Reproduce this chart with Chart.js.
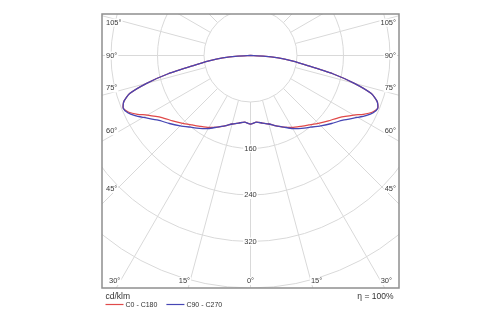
<!DOCTYPE html>
<html>
<head>
<meta charset="utf-8">
<script src="https://cdn.jsdelivr.net/npm/chart.js@4/dist/chart.umd.min.js"></script>
<style>
  html, body { margin: 0; padding: 0; background: #ffffff; }
  canvas { display: block; }
</style>
</head>
<body>
<canvas id="polar" width="500" height="325"></canvas>
<script>
// Luminous intensity distribution, cd/klm, by gamma angle (0° = straight down)
const gammaDeg = [0, 5, 10, 15, 20, 25, 30, 35, 40, 45, 50, 55, 60, 62.5, 65, 67.5, 70, 72.5, 75, 77.5, 80, 82.5, 85, 87.5, 90];
const planeC0 = [118, 115, 118, 122, 129, 136, 143, 149, 156, 165, 175, 186, 205, 219, 231, 237, 232, 218, 185, 145, 100, 72, 48, 22, 0];
const planeC90 = [118, 115, 118, 122, 129, 136, 145, 153, 161, 171, 182, 194, 213, 224, 233, 237, 232, 218, 185, 145, 100, 72, 48, 22, 0];

const seriesNames = ['C0 - C180', 'C90 - C270'];
const seriesColors = ['#e04a4a', '#4646b4'];

// Polar grid
const ringValues = [80, 160, 240, 320, 400];
const ringLabels = [160, 240, 320];
const spokeStepDeg = 15;
const sideAngleLabels = [105, 90, 75, 60, 45];
const bottomAngleLabels = [30, 15, 0];
const unitText = 'cd/klm';
const efficiencyText = 'η = 100%';

// Build a closed outline: left half (mirrored plane) then right half
function outline(values) {
  const pts = [];
  for (let i = gammaDeg.length - 1; i >= 0; i--) {
    const a = gammaDeg[i] * Math.PI / 180;
    pts.push({ x: -values[i] * Math.sin(a), y: -values[i] * Math.cos(a) });
  }
  for (let i = 1; i < gammaDeg.length; i++) {
    const a = gammaDeg[i] * Math.PI / 180;
    pts.push({ x: values[i] * Math.sin(a), y: -values[i] * Math.cos(a) });
  }
  return pts;
}

const FONT = '"Liberation Sans", Arial, sans-serif';

function labelBox(ctx, text, x, y, align, baseline) {
  ctx.textAlign = align;
  ctx.textBaseline = baseline;
  const w = ctx.measureText(text).width;
  const h = 8;
  let left = align === 'left' ? x : align === 'right' ? x - w : x - w / 2;
  let top = baseline === 'top' ? y : baseline === 'bottom' ? y - h : y - h / 2;
  ctx.fillStyle = '#ffffff';
  ctx.fillRect(left - 1, top, w + 2, h);
  ctx.fillStyle = '#3a3a3a';
  ctx.fillText(text, x, baseline === 'top' ? y + 0.5 : baseline === 'bottom' ? y - 0.5 : y);
}

const polarGrid = {
  id: 'polarGrid',
  beforeDatasetsDraw(chart) {
    const { ctx, chartArea: ca, scales: { x, y } } = chart;
    const cx = x.getPixelForValue(0), cy = y.getPixelForValue(0);
    const k = x.getPixelForValue(100) - cx; // px per 100 units
    const rpx = v => v * k / 100;
    ctx.save();
    ctx.beginPath();
    ctx.rect(ca.left, ca.top, ca.right - ca.left, ca.bottom - ca.top);
    ctx.clip();
    ctx.strokeStyle = '#d9d9d9';
    ctx.lineWidth = 1;
    // rings
    ringValues.forEach(v => {
      ctx.beginPath();
      ctx.arc(cx, cy, rpx(v), 0, Math.PI * 2);
      ctx.stroke();
    });
    // spokes, starting at the innermost ring
    const r0 = rpx(ringValues[0]), r1 = rpx(1000);
    for (let g = 0; g < 360; g += spokeStepDeg) {
      const a = g * Math.PI / 180;
      const dx = Math.sin(a), dy = Math.cos(a);
      ctx.beginPath();
      ctx.moveTo(cx + dx * r0, cy + dy * r0);
      ctx.lineTo(cx + dx * r1, cy + dy * r1);
      ctx.stroke();
    }
    ctx.font = '7.5px ' + FONT;
    // ring value labels along the 0° spoke
    ringLabels.forEach(v => labelBox(ctx, String(v), cx, cy + rpx(v), 'center', 'middle'));
    // angle labels on the sides
    const sideDx = 137.5;
    sideAngleLabels.forEach(g => {
      const a = g * Math.PI / 180;
      const ly = cy + sideDx * Math.cos(a) / Math.sin(a);
      const base = g < 90 ? 'bottom' : g > 90 ? 'top' : 'middle';
      labelBox(ctx, g + '°', ca.left + 4, ly, 'left', base);
      labelBox(ctx, g + '°', ca.right - 3, ly, 'right', base);
    });
    // angle labels along the bottom
    const by = ca.bottom - 7;
    bottomAngleLabels.forEach(g => {
      const a = g * Math.PI / 180;
      const off = (by - cy) * Math.tan(a);
      if (g === 0) {
        labelBox(ctx, '0°', cx, by, 'center', 'middle');
      } else {
        labelBox(ctx, g + '°', cx - off, by, 'right', 'middle');
        labelBox(ctx, g + '°', cx + off, by, 'left', 'middle');
      }
    });
    ctx.restore();
  },
  afterDatasetsDraw(chart) {
    const { ctx, chartArea: ca } = chart;
    ctx.save();
    // frame
    ctx.strokeStyle = '#8f8f8f';
    ctx.lineWidth = 1.5;
    ctx.strokeRect(ca.left, ca.top, ca.right - ca.left, ca.bottom - ca.top);
    // footer texts
    ctx.fillStyle = '#333333';
    ctx.textBaseline = 'middle';
    ctx.font = '8.5px ' + FONT;
    ctx.textAlign = 'left';
    ctx.fillText(unitText, ca.left + 3.5, ca.bottom + 9);
    ctx.textAlign = 'right';
    ctx.fillText(efficiencyText, ca.right - 5.5, ca.bottom + 9);
    // legend
    ctx.font = '7px ' + FONT;
    ctx.textAlign = 'left';
    let lx = ca.left + 3.5;
    const ly = ca.bottom + 16.5;
    chart.data.datasets.forEach(ds => {
      ctx.strokeStyle = ds.borderColor;
      ctx.lineWidth = 1.2;
      ctx.beginPath();
      ctx.moveTo(lx, ly);
      ctx.lineTo(lx + 18, ly);
      ctx.stroke();
      ctx.fillStyle = '#333333';
      ctx.fillText(ds.label, lx + 20, ly + 0.5);
      lx += 20 + ctx.measureText(ds.label).width + 9;
    });
    ctx.restore();
  }
};

new Chart(document.getElementById('polar'), {
  type: 'scatter',
  data: {
    datasets: [
      { label: seriesNames[0], data: outline(planeC0), borderColor: seriesColors[0],
        showLine: true, borderWidth: 1.3, pointRadius: 0, tension: 0.2, order: 1 },
      { label: seriesNames[1], data: outline(planeC90), borderColor: seriesColors[1],
        showLine: true, borderWidth: 1.3, pointRadius: 0, tension: 0.2, order: 0 }
    ]
  },
  options: {
    responsive: false,
    animation: false,
    devicePixelRatio: 1,
    layout: { padding: { left: 102, top: 14, right: 101, bottom: 37 } },
    scales: {
      x: { type: 'linear', display: false, min: -255.5, max: 255.5 },
      y: { type: 'linear', display: false, min: -400, max: 71.4 }
    },
    plugins: { legend: { display: false }, tooltip: { enabled: false } }
  },
  plugins: [polarGrid]
});
</script>
</body>
</html>
